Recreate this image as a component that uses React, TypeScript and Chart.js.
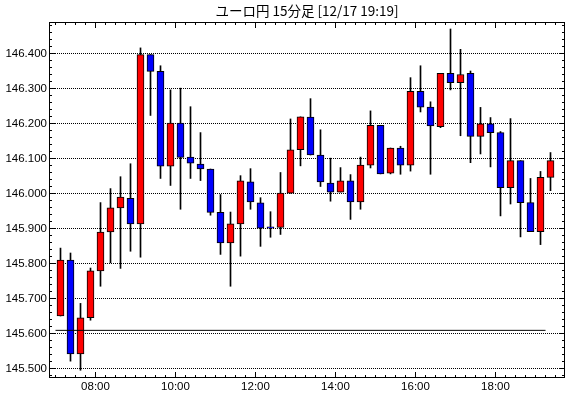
import React, { useEffect, useRef } from "react";
import { Chart, registerables } from "chart.js";

Chart.register(...registerables);

const TITLE = "ユーロ円 15分足 [12/17 19:19]";

const TIMES = [
  "07:00", "07:15", "07:30", "07:45", "08:00", "08:15", "08:30", "08:45",
  "09:00", "09:15", "09:30", "09:45", "10:00", "10:15", "10:30", "10:45",
  "11:00", "11:15", "11:30", "11:45", "12:00", "12:15", "12:30", "12:45",
  "13:00", "13:15", "13:30", "13:45", "14:00", "14:15", "14:30", "14:45",
  "15:00", "15:15", "15:30", "15:45", "16:00", "16:15", "16:30", "16:45",
  "17:00", "17:15", "17:30", "17:45", "18:00", "18:15", "18:30", "18:45",
  "19:00", "19:15",
];

const OPEN = [
  145.650, 145.810, 145.542, 145.645, 145.779, 145.890, 145.959, 145.986,
  145.913, 146.397, 146.349, 146.078, 146.201, 146.104, 146.084, 146.070,
  145.946, 145.859, 145.913, 146.033, 145.973, 145.905, 145.903, 146.001,
  146.125, 146.218, 146.110, 146.030, 146.004, 146.036, 145.976, 146.081,
  146.195, 146.058, 146.130, 146.081, 146.292, 146.247, 146.191, 146.343,
  146.317, 146.343, 146.163, 146.199, 146.174, 146.017, 146.094, 145.974,
  145.891, 146.046,
];

const HIGH = [
  145.844, 145.830, 145.686, 145.787, 145.974, 146.014, 146.048, 146.085,
  146.416, 146.397, 146.365, 146.296, 146.301, 146.248, 146.174, 146.070,
  145.997, 145.947, 146.051, 146.071, 145.988, 145.948, 146.060, 146.213,
  146.219, 146.271, 146.182, 146.101, 146.074, 146.054, 146.104, 146.236,
  146.195, 146.130, 146.135, 146.331, 146.365, 146.262, 146.343, 146.470,
  146.412, 146.350, 146.246, 146.217, 146.177, 146.214, 146.094, 146.043,
  146.063, 146.117,
];

const LOW = [
  145.650, 145.521, 145.495, 145.638, 145.735, 145.802, 145.786, 145.835,
  145.818, 146.223, 146.043, 146.023, 145.955, 146.043, 146.037, 145.938,
  145.826, 145.735, 145.821, 145.955, 145.849, 145.875, 145.883, 146.001,
  146.079, 146.110, 146.020, 145.978, 146.004, 145.926, 145.955, 146.073,
  146.056, 146.056, 146.055, 146.064, 146.233, 146.055, 146.188, 146.296,
  146.165, 146.088, 146.113, 146.076, 145.936, 145.970, 145.876, 145.891,
  145.854, 146.008,
];

const CLOSE = [
  145.810, 145.542, 145.645, 145.779, 145.890, 145.959, 145.990, 145.913,
  146.397, 146.349, 146.078, 146.201, 146.103, 146.087, 146.070, 145.946,
  145.859, 145.913, 146.036, 145.976, 145.901, 145.901, 146.001, 146.125,
  146.219, 146.110, 146.033, 146.004, 146.036, 145.976, 146.081, 146.195,
  146.056, 146.130, 146.081, 146.292, 146.247, 146.193, 146.343, 146.317,
  146.340, 146.163, 146.199, 146.174, 146.017, 146.094, 145.974, 145.891,
  146.046, 146.094,
];

const REF_LEVEL = 145.609;
const REF_START = "07:00";
const REF_END = "19:15";

const Y_TICKS = [145.5, 145.6, 145.7, 145.8, 145.9, 146.0, 146.1, 146.2, 146.3, 146.4];
const X_TICK_LABELS = ["08:00", "10:00", "12:00", "14:00", "16:00", "18:00"];

const UP_COLOR = "#ff0000";
const DOWN_COLOR = "#0000ff";
const LABEL_FONT = "'Liberation Sans', Arial, sans-serif";

const toHour = (s: string) => {
  const [h, m] = s.split(":").map(Number);
  return h + m / 60;
};
const HALF_SLOT = 7.5 / 60;

const framePlugin = {
  id: "framePlugin",
  beforeDatasetsDraw(chart: any) {
    const { ctx, chartArea } = chart;
    const y = chart.scales.y;
    ctx.save();
    ctx.strokeStyle = "#000";
    ctx.lineWidth = 1;
    ctx.setLineDash([1, 1]);
    for (const v of Y_TICKS) {
      const py = Math.floor(y.getPixelForValue(v)) + 0.5;
      ctx.beginPath();
      ctx.moveTo(chartArea.left, py);
      ctx.lineTo(chartArea.right, py);
      ctx.stroke();
    }
    ctx.restore();
  },
  afterDatasetsDraw(chart: any) {
    const { ctx, chartArea } = chart;
    const { left, right, top, bottom } = chartArea;
    const x = chart.scales.x;
    const y = chart.scales.y;
    ctx.save();
    ctx.strokeStyle = "#000";
    ctx.lineWidth = 1;
    ctx.setLineDash([]);
    ctx.strokeRect(left + 0.5, top + 0.5, right - left - 1, bottom - top - 1);
    ctx.beginPath();
    // x ticks every 15 minutes, longer on labelled hours
    const majorX = X_TICK_LABELS.map(toHour);
    for (let t = Math.ceil(x.min * 4) / 4; t <= x.max; t += 0.25) {
      const px = Math.floor(x.getPixelForValue(t)) + 0.5;
      const isMajor = majorX.some((m) => Math.abs(m - t) < 1e-6);
      const len = isMajor ? 6 : 3;
      ctx.moveTo(px, bottom);
      ctx.lineTo(px, bottom - len);
      ctx.moveTo(px, top);
      ctx.lineTo(px, top + len);
    }
    // y ticks every 0.02
    for (let k = Math.ceil(y.min * 50); k <= Math.floor(y.max * 50); k++) {
      const v = k / 50;
      const py = Math.floor(y.getPixelForValue(v)) + 0.5;
      const isMajor = k % 5 === 0;
      const len = isMajor ? 6 : 3;
      ctx.moveTo(left, py);
      ctx.lineTo(left + len, py);
      ctx.moveTo(right, py);
      ctx.lineTo(right - len, py);
    }
    ctx.stroke();
    ctx.restore();
  },
  afterDraw(chart: any) {
    const { ctx, chartArea } = chart;
    ctx.save();
    ctx.fillStyle = "#000";
    ctx.font = "13.5px 'Noto Sans CJK JP', sans-serif";
    ctx.textAlign = "center";
    ctx.textBaseline = "middle";
    ctx.fillText(TITLE, (chartArea.left + chartArea.right) / 2, 11);
    ctx.restore();
  },
};

export default function App() {
  const ref = useRef<HTMLCanvasElement | null>(null);

  useEffect(() => {
    if (!ref.current) return;
    const centers = TIMES.map((t) => toHour(t) + HALF_SLOT);
    const bodies = centers.map((c, i) => ({ x: c, y: [OPEN[i], CLOSE[i]] }));
    const wicks = centers.map((c, i) => ({ x: c, y: [LOW[i], HIGH[i]] }));
    const colors = CLOSE.map((c, i) => (c >= OPEN[i] ? UP_COLOR : DOWN_COLOR));
    const xTickValues = X_TICK_LABELS.map(toHour);

    const chart = new Chart(ref.current, {
      type: "bar",
      data: {
        datasets: [
          {
            type: "line",
            data: [
              { x: toHour(REF_START), y: REF_LEVEL },
              { x: toHour(REF_END), y: REF_LEVEL },
            ],
            borderColor: "#000",
            borderWidth: 1,
            pointRadius: 0,
            fill: false,
          } as any,
          {
            type: "bar",
            data: bodies as any,
            backgroundColor: colors,
            borderColor: "#000",
            borderWidth: 1,
            borderSkipped: false,
            barThickness: 7,
            grouped: false,
          } as any,
          {
            type: "bar",
            data: wicks as any,
            backgroundColor: "#000",
            borderWidth: 0,
            barThickness: 1,
            grouped: false,
          } as any,
        ],
      },
      options: {
        animation: false,
        responsive: false,
        devicePixelRatio: 1,
        layout: { padding: { top: 22, right: 5, left: 0, bottom: 0 } },
        plugins: { legend: { display: false }, tooltip: { enabled: false }, title: { display: false } },
        scales: {
          x: {
            type: "linear",
            min: 6.8375,
            max: 19.7375,
            offset: false,
            grid: { display: false, drawTicks: false },
            border: { display: false },
            afterBuildTicks: (scale: any) => {
              scale.ticks = xTickValues.map((v) => ({ value: v }));
            },
            afterFit: (scale: any) => {
              scale.height = 20;
            },
            ticks: {
              autoSkip: false,
              maxRotation: 0,
              padding: 2,
              color: "#000",
              font: { family: LABEL_FONT, size: 11.5 },
              callback: (v: any) => {
                const i = xTickValues.findIndex((t) => Math.abs(t - Number(v)) < 1e-6);
                return i >= 0 ? X_TICK_LABELS[i] : "";
              },
            },
          },
          y: {
            type: "linear",
            min: 145.47286,
            max: 146.49,
            grid: { display: false, drawTicks: false },
            border: { display: false },
            afterBuildTicks: (scale: any) => {
              scale.ticks = Y_TICKS.map((v) => ({ value: v }));
            },
            afterFit: (scale: any) => {
              scale.width = 49;
            },
            ticks: {
              padding: 2,
              color: "#000",
              font: { family: LABEL_FONT, size: 11.5 },
              callback: (v: any) => Number(v).toFixed(3),
            },
          },
        },
      } as any,
      plugins: [framePlugin],
    });
    return () => chart.destroy();
  }, []);

  return (
    <div style={{ position: "absolute", left: 0, top: 0, width: 570, height: 398, background: "#fff" }}>
      <canvas ref={ref} width={570} height={398} style={{ display: "block" }} />
    </div>
  );
}
